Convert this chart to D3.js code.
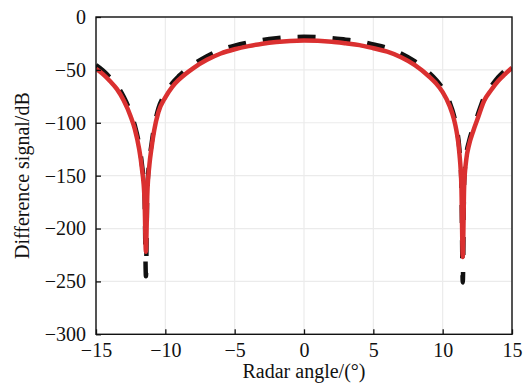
<!DOCTYPE html>
<html>
<head>
<meta charset="utf-8">
<script src="https://cdn.jsdelivr.net/npm/d3@7"></script>
<style>
  html, body { margin: 0; padding: 0; background: #fff; }
  svg { display: block; }
</style>
</head>
<body>
<svg id="chart" width="529" height="389"></svg>
<script>
// Radar angle (degrees)
const angles = [-15,-14.5,-14,-13.5,-13,-12.5,-12.2,-11.9,-11.7,-11.5,-11.4,-11.3,-11.15,-11,-10.8,-10.5,-10,-9.5,-9,-8,-7,-6,-5,-4,-3,-2,-1,0,1,2,3,4,5,6,7,8,9,9.5,10,10.5,10.8,11,11.2,11.35,11.45,11.55,11.7,11.9,12.2,12.5,13,13.5,14,14.5,15];
// Red solid series (dB)
const redSeries = [-49,-54,-60.5,-68,-79,-94,-106,-124,-142,-172,-222,-168,-140,-124,-107,-90,-76,-66,-59,-48.5,-40.5,-34.5,-30.5,-27.5,-25.2,-23.6,-22.6,-22.2,-22.5,-23.4,-24.9,-26.6,-29.5,-32.8,-38,-45.5,-56,-62.5,-71,-84,-96,-108,-128,-160,-227,-160,-135,-121,-108,-97,-79,-69,-60.5,-54,-48];
// Black dashed series (dB)
const blackSeries = [-45.5,-50.5,-57,-64.5,-75.5,-90.5,-102.5,-120,-138,-168,-245,-164,-136,-120.5,-103.5,-86.5,-72.5,-62.5,-55.5,-45,-37,-31,-27,-24,-21.7,-20.1,-19.1,-18.7,-19,-19.9,-21.4,-23.1,-26,-29.3,-34.5,-42,-52.5,-59,-67.5,-80.5,-92.5,-104.5,-124,-156,-251,-156,-131,-117.5,-104.5,-93.5,-75.5,-65.5,-57,-50.5,-44.5];
// Tick labels
const xTicks = [-15,-10,-5,0,5,10,15];
const yTicks = [0,-50,-100,-150,-200,-250,-300];
const xLabel = "Radar angle/(°)";
const yLabel = "Difference signal/dB";

const FONT = '"Liberation Serif", "Times New Roman", Times, Tinos, "Nimbus Roman", "Noto Serif", "DejaVu Serif", FreeSerif, serif';
const svg = d3.select("#chart");
const m = {left: 96, top: 17, right: 17, bottom: 54.7};
const W = 529 - m.left - m.right, H = 389 - m.top - m.bottom;

const x = d3.scaleLinear().domain([-15, 15]).range([m.left, m.left + W]);
const y = d3.scaleLinear().domain([-300, 0]).range([m.top + H, m.top]);

// grid
const grid = svg.append("g");
grid.selectAll("line.gx").data(xTicks).enter().append("line")
  .attr("x1", d => x(d)).attr("x2", d => x(d))
  .attr("y1", m.top).attr("y2", m.top + H)
  .attr("stroke", "#ebebeb").attr("stroke-width", 1.2);
grid.selectAll("line.gy").data(yTicks).enter().append("line")
  .attr("y1", d => y(d)).attr("y2", d => y(d))
  .attr("x1", m.left).attr("x2", m.left + W)
  .attr("stroke", "#ebebeb").attr("stroke-width", 1.2);

svg.append("clipPath").attr("id", "clip").append("rect")
  .attr("x", m.left).attr("y", m.top).attr("width", W).attr("height", H);

const pts = (vals) => angles.map((a, i) => [a, vals[i]]);
const line = d3.line().x(d => x(d[0])).y(d => y(d[1])).curve(d3.curveMonotoneX);

const plot = svg.append("g").attr("clip-path", "url(#clip)");
plot.append("path").datum(pts(blackSeries))
  .attr("d", line).attr("fill", "none")
  .attr("stroke", "#111").attr("stroke-width", 4.5)
  .attr("stroke-dasharray", "18,17");
plot.append("path").datum(pts(redSeries))
  .attr("d", line).attr("fill", "none")
  .attr("stroke", "#da3030").attr("stroke-width", 4.5)
  .attr("stroke-linejoin", "round");

// axes
const fmt = d => d < 0 ? "\u2212" + Math.abs(d) : String(d);
const xAxis = d3.axisBottom(x).tickValues(xTicks).tickSizeInner(-5).tickSizeOuter(0)
  .tickPadding(10).tickFormat(fmt);
const yAxis = d3.axisLeft(y).tickValues(yTicks).tickSizeInner(-5).tickSizeOuter(0)
  .tickPadding(10).tickFormat(fmt);

const gx = svg.append("g").attr("transform", `translate(0,${m.top + H})`).call(xAxis);
const gy = svg.append("g").attr("transform", `translate(${m.left},0)`).call(yAxis);
[gx, gy].forEach(g => {
  g.attr("font-family", FONT).attr("font-size", 20);
  g.select(".domain").remove();
  g.selectAll(".tick line").attr("stroke", "#111").attr("stroke-width", 1.3);
  g.selectAll(".tick text").attr("fill", "#111");
});
gx.selectAll(".tick text").attr("dy", "0.62em");

// frame
svg.append("rect").attr("x", m.left).attr("y", m.top).attr("width", W).attr("height", H)
  .attr("fill", "none").attr("stroke", "#111").attr("stroke-width", 1.4);

svg.append("text").attr("x", m.left + W / 2).attr("y", 378).attr("fill", "#111")
  .attr("text-anchor", "middle").attr("font-family", FONT).attr("font-size", 20).text(xLabel);
svg.append("text").attr("transform", `translate(29,${m.top + H / 2}) rotate(-90)`).attr("fill", "#111")
  .attr("text-anchor", "middle").attr("font-family", FONT).attr("font-size", 20).text(yLabel);
</script>
</body>
</html>
